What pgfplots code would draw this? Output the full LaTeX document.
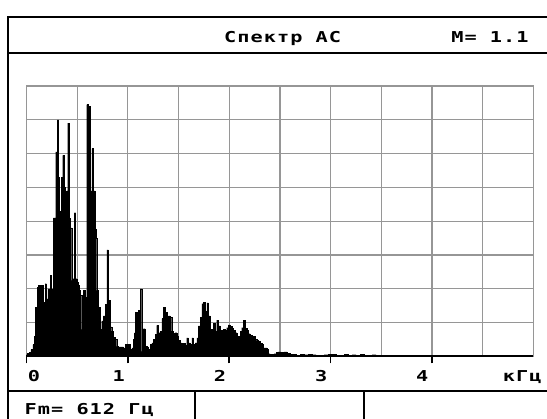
\documentclass[border=0pt]{standalone}
\usepackage{pgfplots}
\pgfplotsset{compat=1.18}
\usepackage{fontspec}
\setmainfont{DejaVu Sans Mono}[FakeStretch=1.35, LetterSpace=7]
\definecolor{gridgray}{RGB}{150,150,150}
\newcommand{\pix}{\bfseries\fontsize{15}{18}\selectfont}
\begin{document}
\begin{tikzpicture}
\useasboundingbox (0pt,0pt) rectangle (547pt,419pt);
\fill[white] (0pt,0pt) rectangle (547pt,419pt);
% frame
\draw[line width=2pt] (547pt,402.3pt) -- (8.4pt,402.3pt) -- (8.4pt,0pt);
\draw[line width=2pt] (8.4pt,365.6pt) -- (547pt,365.6pt);
\draw[line width=2pt] (8.4pt,27.7pt) -- (547pt,27.7pt);
\draw[line width=2pt] (194.7pt,0pt) -- (194.7pt,27.7pt);
\draw[line width=2pt] (364pt,0pt) -- (364pt,27.7pt);
\node[anchor=base,inner sep=0pt,font=\pix] at (282.6pt,376pt) {Спектр АС};
\node[anchor=base,inner sep=0pt,font=\pix] at (490pt,376pt) {M= 1.1};
\node[anchor=base west,inner sep=0pt,font=\pix] at (24.4pt,4pt) {Fm= 612 Гц};
\begin{axis}[
  at={(26.5pt,62.6pt)}, anchor=origin,
  scale only axis, width=506.7pt, height=270.4pt,
  xmin=0, xmax=5, ymin=0, ymax=8,
  clip=false,
  /pgf/number format/assume math mode=true,
  xtick={0,1,2,3,4}, xticklabels={},
  minor xtick={0.5,1.5,2.5,3.5,4.5,5},
  ytick={0,1,...,8}, yticklabels={},
  xtick pos=left,
  grid=both,
  major grid style={gridgray, line width=1.3pt},
  minor grid style={gridgray, line width=1.3pt},
  axis line style={gridgray, line width=1.3pt},
  tick align=outside, major tick length=7pt, minor tick length=0pt,
  xtick style={black, line width=1.8pt},
  ytick style={draw=none},
  extra x ticks={0.074,0.911,1.910,2.907,3.904,4.891},
  extra x tick labels={0,1,2,3,4,кГц},
  extra x tick style={major tick length=0pt, grid=none, xtick style={draw=none},
    xticklabel style={anchor=base, yshift=-25.5pt, inner sep=0pt, font=\pix}},
]
\addplot[const plot, fill=black, draw=black, line width=0.3pt] coordinates {
(0,0.05) (0.005,0.1) (0.025,0.12) (0.044,0.2) (0.064,0.35) (0.079,0.6) (0.089,1.45)
(0.104,2.05) (0.118,2.1) (0.133,1.75) (0.148,2.1) (0.163,1.6) (0.183,2.15) (0.197,1.7)
(0.212,2.0) (0.232,2.4) (0.247,2.0) (0.265,4.1) (0.288,6.05) (0.304,7.0) (0.316,5.3)
(0.324,4.3) (0.341,5.3) (0.357,5.95) (0.370,5.0) (0.380,4.85) (0.395,4.9) (0.407,6.9)
(0.420,4.1) (0.429,3.8) (0.446,2.25) (0.459,2.3) (0.472,4.25) (0.484,2.3) (0.496,2.2)
(0.508,2.1) (0.518,1.95) (0.533,1.8) (0.545,0.8) (0.561,1.95) (0.577,1.75) (0.594,7.45)
(0.610,7.4) (0.627,4.9) (0.644,6.15) (0.659,4.9) (0.676,3.75) (0.686,3.5) (0.693,1.95)
(0.709,1.45) (0.726,0.8) (0.742,1.05) (0.758,1.2) (0.775,1.55) (0.792,3.15) (0.807,1.65)
(0.824,0.87) (0.841,0.75) (0.857,0.57) (0.874,0.5) (0.890,0.3) (0.906,0.28) (0.923,0.28)
(0.940,0.28) (0.955,0.25) (0.972,0.36) (0.989,0.33) (1.005,0.36) (1.022,0.2) (1.039,0.25)
(1.054,0.5) (1.066,0.7) (1.071,1.31) (1.088,1.05) (1.104,1.36) (1.120,2.0) (1.137,0.15)
(1.153,0.82) (1.170,0.3) (1.187,0.28) (1.202,0.2) (1.219,0.36) (1.236,0.4) (1.252,0.5)
(1.269,0.65) (1.285,0.92) (1.301,0.7) (1.318,0.75) (1.335,1.12) (1.350,1.46) (1.367,1.3)
(1.384,0.77) (1.400,1.2) (1.417,1.15) (1.433,0.75) (1.449,0.68) (1.466,0.7) (1.483,0.6)
(1.498,0.48) (1.515,0.4) (1.532,0.3) (1.548,0.38) (1.565,0.33) (1.581,0.55) (1.597,0.4)
(1.614,0.35) (1.631,0.55) (1.647,0.35) (1.663,0.4) (1.680,0.55) (1.696,0.9) (1.713,1.15)
(1.730,1.56) (1.745,1.6) (1.762,1.33) (1.779,1.58) (1.795,1.2) (1.811,0.8) (1.828,0.7)
(1.844,0.97) (1.861,0.75) (1.877,1.07) (1.893,0.9) (1.910,0.77) (1.927,0.77) (1.943,0.8)
(1.959,0.77) (1.976,0.85) (1.992,0.93) (2.009,0.88) (2.026,0.83) (2.041,0.78) (2.058,0.7)
(2.075,0.47) (2.091,0.6) (2.108,0.75) (2.124,0.85) (2.140,1.07) (2.157,0.83) (2.174,0.77)
(2.190,0.67) (2.206,0.62) (2.223,0.6) (2.239,0.6) (2.256,0.5) (2.272,0.47) (2.288,0.45)
(2.305,0.38) (2.322,0.35) (2.338,0.25) (2.354,0.25) (2.371,0.2) (2.387,0.08) (2.404,0.06)
(2.423,0.07) (2.443,0.08) (2.463,0.12) (2.483,0.13) (2.512,0.12) (2.542,0.13) (2.572,0.1)
(2.601,0.06) (2.631,0.07) (2.660,0.04) (2.700,0.06) (2.739,0.05) (2.779,0.07) (2.818,0.05)
(2.858,0.03) (2.897,0.04) (2.937,0.05) (2.976,0.07) (3.016,0.07) (3.055,0.04) (3.095,0.03)
(3.134,0.06) (3.174,0.03) (3.213,0.05) (3.253,0.04) (3.292,0.06) (3.332,0.04) (3.371,0.03)
(3.411,0.05) (3.450,0.02) (3.490,0)
} \closedcycle;
\draw[black, line width=2.2pt] (axis cs:0,0) -- (axis cs:5,0);
\end{axis}
\end{tikzpicture}
\end{document}
